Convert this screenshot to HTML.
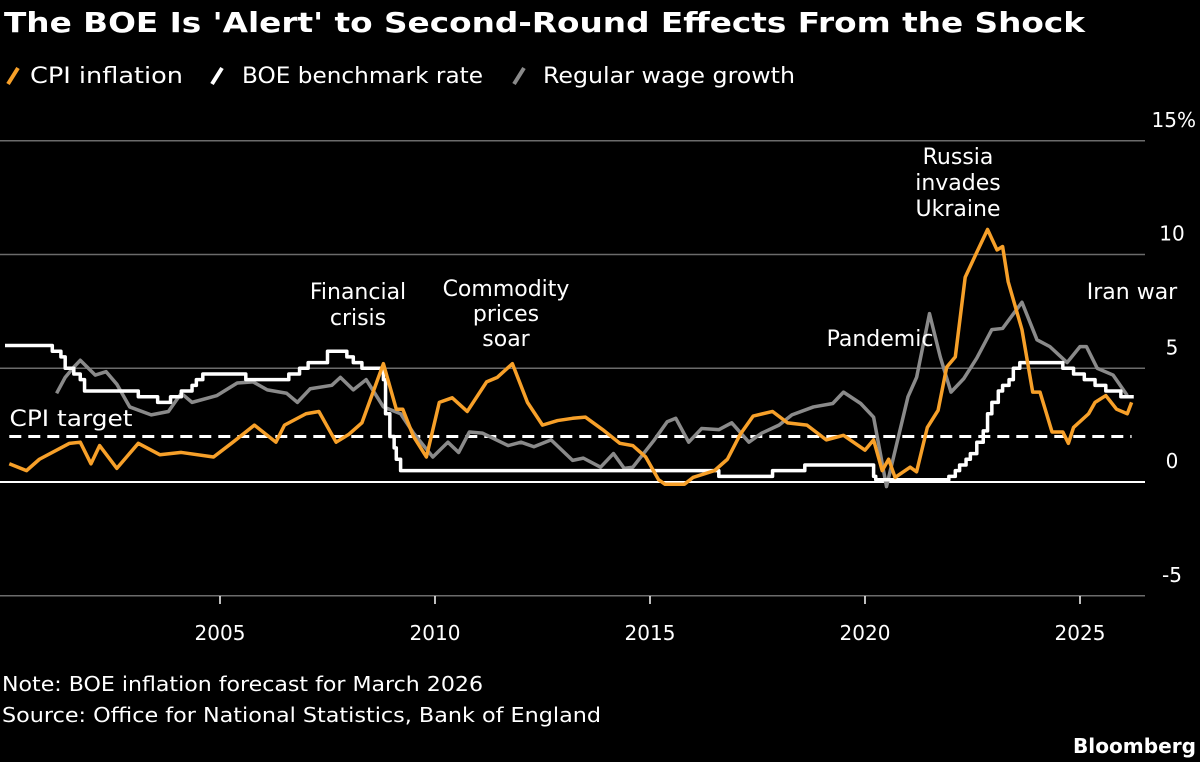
<!DOCTYPE html>
<html><head><meta charset="utf-8"><style>
body{margin:0;background:#000;}
svg{display:block;font-family:"DejaVu Sans","Liberation Sans",sans-serif;}
</style></head><body>
<svg id="c" width="1200" height="762" viewBox="0 0 1200 762">
<text x="4" y="32" fill="#fff" font-size="28" font-weight="bold" textLength="1081" lengthAdjust="spacingAndGlyphs">The BOE Is 'Alert' to Second-Round Effects From the Shock</text>
<g font-size="22" fill="#fff">
<g><line x1="8" y1="84" x2="18" y2="68" stroke="#f7a029" stroke-width="4"/><text x="30" y="83" textLength="153" lengthAdjust="spacingAndGlyphs">CPI inflation</text></g>
<g><line x1="212" y1="84" x2="222" y2="68" stroke="#fff" stroke-width="4"/><text x="242" y="83" textLength="241" lengthAdjust="spacingAndGlyphs">BOE benchmark rate</text></g>
<g><line x1="514" y1="84" x2="524" y2="68" stroke="#8a8a8a" stroke-width="4"/><text x="543" y="83" textLength="252" lengthAdjust="spacingAndGlyphs">Regular wage growth</text></g>
</g>
<g id="grid"></g>
<g id="marks"></g>
<g font-size="22" fill="#fff" text-anchor="middle">
<text x="358" y="299">Financial</text>
<text x="358" y="325">crisis</text>
<text x="506" y="296">Commodity</text>
<text x="506" y="321">prices</text>
<text x="506" y="346">soar</text>
<text x="880" y="346">Pandemic</text>
<text x="958" y="164">Russia</text>
<text x="958" y="190">invades</text>
<text x="958" y="216">Ukraine</text>
<text x="1132" y="299">Iran war</text>
<text x="71" y="426" textLength="123" lengthAdjust="spacingAndGlyphs">CPI target</text>
</g>
<g font-size="20" fill="#fff">
<text x="2" y="691" textLength="481" lengthAdjust="spacingAndGlyphs">Note: BOE inflation forecast for March 2026</text>
<text x="2" y="722" textLength="599" lengthAdjust="spacingAndGlyphs">Source: Office for National Statistics, Bank of England</text>
<text x="1073" y="753" font-weight="bold" textLength="123" lengthAdjust="spacingAndGlyphs">Bloomberg</text>
</g>
</svg>
<script>
const yTicks=[15,10,5,0,-5];
const yTickLabels=["15%","10","5","0","-5"];
const xTicks=[2005,2010,2015,2020,2025];
const cpiYears=[2000.1,2000.5,2000.8,2001.5,2001.75,2002.0,2002.2,2002.6,2003.1,2003.6,2004.1,2004.85,2005.3,2005.8,2006.3,2006.5,2007.0,2007.3,2007.7,2008.0,2008.3,2008.8,2009.1,2009.25,2009.5,2009.8,2010.1,2010.4,2010.75,2011.2,2011.45,2011.8,2012.15,2012.5,2012.85,2013.2,2013.5,2013.9,2014.3,2014.6,2014.9,2015.2,2015.35,2015.8,2016.0,2016.5,2016.8,2017.1,2017.4,2017.85,2018.2,2018.65,2019.1,2019.5,2020.0,2020.2,2020.4,2020.55,2020.7,2021.05,2021.2,2021.45,2021.7,2021.9,2022.1,2022.33,2022.6,2022.85,2023.07,2023.2,2023.33,2023.65,2023.9,2024.07,2024.35,2024.6,2024.73,2024.85,2025.2,2025.35,2025.6,2025.85,2026.1,2026.2];
const cpiValues=[0.8,0.5,1.0,1.7,1.75,0.8,1.6,0.6,1.7,1.2,1.3,1.1,1.75,2.5,1.75,2.5,3.0,3.1,1.75,2.1,2.6,5.2,3.2,3.2,2.0,1.1,3.5,3.7,3.1,4.4,4.6,5.2,3.5,2.5,2.7,2.8,2.85,2.3,1.7,1.6,1.1,0.1,-0.1,-0.1,0.2,0.5,1.0,2.1,2.9,3.1,2.6,2.5,1.85,2.05,1.4,1.85,0.5,1.0,0.2,0.65,0.45,2.4,3.15,5.05,5.5,9.0,10.1,11.1,10.2,10.35,8.8,6.7,3.95,3.95,2.2,2.2,1.7,2.4,3.0,3.5,3.8,3.2,3.0,3.5];
const rateYears=[2000.0,2001.1,2001.3,2001.4,2001.6,2001.75,2001.85,2003.1,2003.55,2003.85,2004.1,2004.35,2004.45,2004.6,2005.6,2006.6,2006.85,2007.05,2007.5,2007.95,2008.1,2008.3,2008.8,2008.85,2008.95,2009.05,2009.1,2009.2,2016.6,2017.85,2018.6,2020.2,2020.25,2021.95,2022.1,2022.2,2022.35,2022.45,2022.6,2022.75,2022.85,2022.95,2023.1,2023.2,2023.35,2023.45,2023.6,2024.6,2024.85,2025.1,2025.35,2025.6,2025.95,2026.25];
const rateValues=[6.0,5.75,5.5,5.0,4.75,4.5,4.0,3.75,3.5,3.75,4.0,4.25,4.5,4.75,4.5,4.75,5.0,5.25,5.75,5.5,5.25,5.0,4.5,3.0,2.0,1.5,1.0,0.5,0.25,0.5,0.75,0.25,0.1,0.25,0.5,0.75,1.0,1.25,1.75,2.25,3.0,3.5,4.0,4.25,4.5,5.0,5.25,5.0,4.75,4.5,4.25,4.0,3.75,3.75];
const wageYears=[2001.2,2001.4,2001.6,2001.75,2002.1,2002.35,2002.6,2002.9,2003.4,2003.8,2004.1,2004.35,2004.93,2005.4,2005.77,2006.1,2006.55,2006.8,2007.1,2007.6,2007.8,2008.1,2008.4,2008.8,2009.2,2009.5,2009.95,2010.3,2010.55,2010.8,2011.1,2011.7,2012.0,2012.3,2012.7,2013.2,2013.45,2013.85,2014.15,2014.4,2014.6,2015.1,2015.4,2015.6,2015.9,2016.2,2016.6,2016.9,2017.3,2017.6,2018.0,2018.3,2018.8,2019.25,2019.5,2019.9,2020.2,2020.5,2021.0,2021.2,2021.5,2021.75,2022.0,2022.3,2022.6,2022.95,2023.2,2023.65,2024.0,2024.3,2024.7,2025.0,2025.15,2025.4,2025.77,2026.1];
const wageValues=[3.9,4.6,5.05,5.35,4.7,4.85,4.3,3.3,2.95,3.1,3.9,3.5,3.8,4.35,4.4,4.05,3.9,3.5,4.1,4.25,4.6,4.05,4.5,3.3,3.0,2.15,1.1,1.75,1.3,2.2,2.15,1.6,1.75,1.55,1.85,0.95,1.05,0.65,1.25,0.6,0.65,1.85,2.65,2.8,1.75,2.35,2.3,2.6,1.75,2.15,2.5,2.95,3.3,3.45,3.95,3.45,2.85,-0.2,3.75,4.6,7.4,5.5,3.95,4.55,5.45,6.7,6.75,7.9,6.25,5.95,5.25,5.95,5.95,5.0,4.7,3.8];
const cpiTarget=2;
const targetRange=[2000.1,2026.2];

const X=y=>220+(y-2005)*43;
const Y=v=>482-v*22.75;
const NS='http://www.w3.org/2000/svg';
const grid=document.getElementById('grid'),marks=document.getElementById('marks');
function mk(t,p,a){const e=document.createElementNS(NS,t);for(const k in a)e.setAttribute(k,a[k]);p.appendChild(e);return e;}
yTicks.forEach((v,i)=>{
  const l=mk('line',grid,{x1:0,x2:1145,y1:Y(v),y2:Y(v),stroke:v===0?'#fff':'#6b6b6b','stroke-width':v===0?2:1.5});
  
  
  const t=mk('text',grid,{x:v===15?1196:1172,y:Y(v)-14,fill:'#fff','font-size':20,'text-anchor':v===15?'end':'middle'});
  t.textContent=yTickLabels[i];
  
  
});
xTicks.forEach(yr=>{
  const l=mk('line',grid,{x1:X(yr),x2:X(yr),y1:596,y2:604,stroke:'#fff','stroke-width':1.5});
  
  
  const t=mk('text',grid,{x:X(yr),y:640,fill:'#fff','font-size':20,'text-anchor':'middle'});
  t.textContent=yr;
  
  
});
const tl=mk('line',marks,{x1:X(targetRange[0]),x2:X(targetRange[1]),y1:Y(cpiTarget),y2:Y(cpiTarget),stroke:'#fff','stroke-width':3,'stroke-dasharray':'12 7'});


function path(xs,vs,step){let d='';xs.forEach((x,i)=>{if(i===0)d='M'+X(x)+','+Y(vs[i]);else if(step)d+='H'+X(x)+'V'+Y(vs[i]);else d+='L'+X(x)+','+Y(vs[i]);});return d;}
const w=mk('path',marks,{d:path(wageYears,wageValues),fill:'none',stroke:'#8a8a8a','stroke-width':3.5,'stroke-linejoin':'round'});


const r=mk('path',marks,{d:path(rateYears,rateValues,true),fill:'none',stroke:'#fff','stroke-width':3.5,'stroke-linejoin':'round'});


const c=mk('path',marks,{d:path(cpiYears,cpiValues),fill:'none',stroke:'#f7a029','stroke-width':3.5,'stroke-linejoin':'round'});


</script>
</body></html>
